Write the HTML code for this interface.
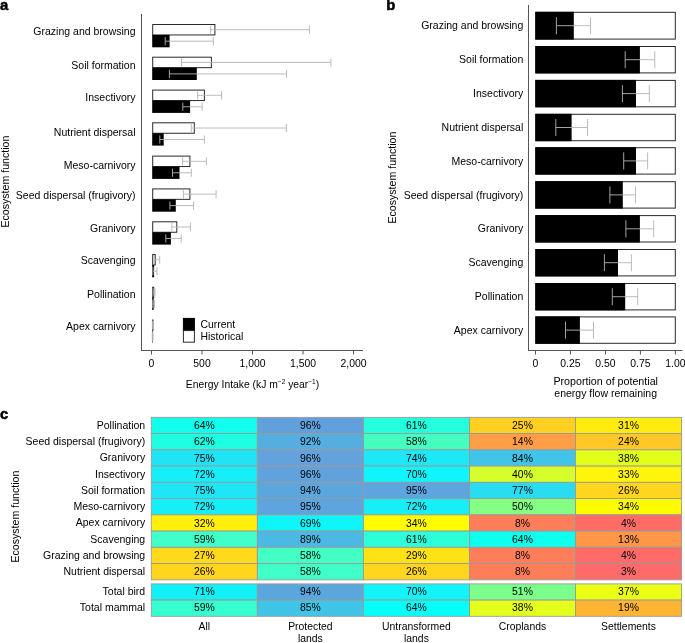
<!DOCTYPE html>
<html><head><meta charset="utf-8"><style>
html,body{margin:0;padding:0;background:#fff;width:685px;height:643px;overflow:hidden}
svg{display:block;will-change:transform}
text{font-family:"Liberation Sans", sans-serif;fill:#000}
</style></head><body>
<svg width="685" height="643" viewBox="0 0 685 643">
<text x="-0.1" y="9.9" text-anchor="start" font-size="14.8" font-weight="bold" stroke="#000" stroke-width="0.5">a</text>
<line x1="141.5" y1="14" x2="141.5" y2="350.5" stroke="#555" stroke-width="1"/>
<line x1="141" y1="350.5" x2="363" y2="350.5" stroke="#555" stroke-width="1"/>
<line x1="151.5" y1="350.5" x2="151.5" y2="354.5" stroke="#555" stroke-width="1"/>
<text x="151.5" y="367.4" text-anchor="middle" font-size="10.4" >0</text>
<line x1="202.0" y1="350.5" x2="202.0" y2="354.5" stroke="#555" stroke-width="1"/>
<text x="202.0" y="367.4" text-anchor="middle" font-size="10.4" >500</text>
<line x1="252.5" y1="350.5" x2="252.5" y2="354.5" stroke="#555" stroke-width="1"/>
<text x="252.5" y="367.4" text-anchor="middle" font-size="10.4" >1,000</text>
<line x1="303.0" y1="350.5" x2="303.0" y2="354.5" stroke="#555" stroke-width="1"/>
<text x="303.0" y="367.4" text-anchor="middle" font-size="10.4" >1,500</text>
<line x1="353.5" y1="350.5" x2="353.5" y2="354.5" stroke="#555" stroke-width="1"/>
<text x="353.5" y="367.4" text-anchor="middle" font-size="10.4" >2,000</text>
<text x="252.5" y="387.5" text-anchor="middle" font-size="10.35" >Energy Intake (kJ m<tspan dy="-4" font-size="6.5">−2</tspan><tspan dy="4"> year</tspan><tspan dy="-4" font-size="6.5">−1</tspan><tspan dy="4">)</tspan></text>
<text x="135.5" y="34.7" text-anchor="end" font-size="10.5" >Grazing and browsing</text>
<text x="135.5" y="68.5" text-anchor="end" font-size="10.5" >Soil formation</text>
<text x="135.5" y="100.9" text-anchor="end" font-size="10.5" >Insectivory</text>
<text x="135.5" y="136.3" text-anchor="end" font-size="10.5" >Nutrient dispersal</text>
<text x="135.5" y="169.1" text-anchor="end" font-size="10.5" >Meso-carnivory</text>
<text x="135.5" y="198.5" text-anchor="end" font-size="10.5" >Seed dispersal (frugivory)</text>
<text x="135.5" y="231.8" text-anchor="end" font-size="10.5" >Granivory</text>
<text x="135.5" y="264.4" text-anchor="end" font-size="10.5" >Scavenging</text>
<text x="135.5" y="298.0" text-anchor="end" font-size="10.5" >Pollination</text>
<text x="135.5" y="330.1" text-anchor="end" font-size="10.5" >Apex carnivory</text>
<text transform="translate(8.8,181.6) rotate(-90)" text-anchor="middle" font-size="10.6">Ecosystem function</text>
<rect x="152.70" y="24.50" width="62.20" height="10.45" fill="#fff" stroke="#2a2a2a" stroke-width="1"/>
<rect x="152.2" y="34.95" width="17.40" height="12.35" fill="#000"/>
<path d="M210.60 29.73H309.40M210.60 25.62V33.83M309.40 25.62V33.83" stroke="#b4b4b4" stroke-width="0.9" fill="none"/>
<path d="M165.20 41.17H213.40M165.20 37.07V45.27M213.40 37.07V45.27" stroke="#b4b4b4" stroke-width="0.9" fill="none"/>
<rect x="152.70" y="57.20" width="58.70" height="10.45" fill="#fff" stroke="#2a2a2a" stroke-width="1"/>
<rect x="152.2" y="67.65" width="44.60" height="12.35" fill="#000"/>
<path d="M181.50 62.43H330.90M181.50 58.33V66.53M330.90 58.33V66.53" stroke="#b4b4b4" stroke-width="0.9" fill="none"/>
<path d="M169.40 73.88H286.60M169.40 69.78V77.97M286.60 69.78V77.97" stroke="#b4b4b4" stroke-width="0.9" fill="none"/>
<rect x="152.70" y="90.10" width="51.70" height="10.45" fill="#fff" stroke="#2a2a2a" stroke-width="1"/>
<rect x="152.2" y="100.55" width="37.90" height="12.35" fill="#000"/>
<path d="M197.60 95.32H221.50M197.60 91.22V99.42M221.50 91.22V99.42" stroke="#b4b4b4" stroke-width="0.9" fill="none"/>
<path d="M182.80 106.77H202.20M182.80 102.67V110.87M202.20 102.67V110.87" stroke="#b4b4b4" stroke-width="0.9" fill="none"/>
<rect x="152.70" y="122.80" width="41.60" height="10.45" fill="#fff" stroke="#2a2a2a" stroke-width="1"/>
<rect x="152.2" y="133.25" width="11.50" height="12.35" fill="#000"/>
<path d="M191.30 128.03H286.40M191.30 123.93V132.12M286.40 123.93V132.12" stroke="#b4b4b4" stroke-width="0.9" fill="none"/>
<path d="M159.80 139.47H204.40M159.80 135.38V143.57M204.40 135.38V143.57" stroke="#b4b4b4" stroke-width="0.9" fill="none"/>
<rect x="152.70" y="156.10" width="37.20" height="10.45" fill="#fff" stroke="#2a2a2a" stroke-width="1"/>
<rect x="152.2" y="166.55" width="27.30" height="12.35" fill="#000"/>
<path d="M182.60 161.32H206.40M182.60 157.22V165.42M206.40 157.22V165.42" stroke="#b4b4b4" stroke-width="0.9" fill="none"/>
<path d="M172.50 172.77H191.30M172.50 168.67V176.87M191.30 168.67V176.87" stroke="#b4b4b4" stroke-width="0.9" fill="none"/>
<rect x="152.70" y="188.90" width="37.20" height="10.45" fill="#fff" stroke="#2a2a2a" stroke-width="1"/>
<rect x="152.2" y="199.35" width="23.60" height="12.35" fill="#000"/>
<path d="M183.40 194.12H216.10M183.40 190.03V198.22M216.10 190.03V198.22" stroke="#b4b4b4" stroke-width="0.9" fill="none"/>
<path d="M169.90 205.57H193.50M169.90 201.47V209.67M193.50 201.47V209.67" stroke="#b4b4b4" stroke-width="0.9" fill="none"/>
<rect x="152.70" y="221.80" width="24.10" height="10.45" fill="#fff" stroke="#2a2a2a" stroke-width="1"/>
<rect x="152.2" y="232.25" width="18.70" height="12.35" fill="#000"/>
<path d="M171.80 227.03H190.50M171.80 222.93V231.12M190.50 222.93V231.12" stroke="#b4b4b4" stroke-width="0.9" fill="none"/>
<path d="M165.80 238.48H181.20M165.80 234.38V242.58M181.20 234.38V242.58" stroke="#b4b4b4" stroke-width="0.9" fill="none"/>
<rect x="152.70" y="254.50" width="2.50" height="10.45" fill="#fff" stroke="#2a2a2a" stroke-width="1"/>
<rect x="152.2" y="264.95" width="1.90" height="12.35" fill="#000"/>
<path d="M154.20 259.73H159.70M154.20 255.63V263.83M159.70 255.63V263.83" stroke="#b4b4b4" stroke-width="0.9" fill="none"/>
<path d="M153.00 271.18H156.90M153.00 267.07V275.28M156.90 267.07V275.28" stroke="#b4b4b4" stroke-width="0.9" fill="none"/>
<rect x="152.70" y="287.20" width="1.00" height="10.45" fill="#fff" stroke="#2a2a2a" stroke-width="1"/>
<rect x="152.2" y="297.65" width="1.40" height="12.35" fill="#000"/>
<path d="M153.20 292.43H155.00M153.20 288.32V296.53M155.00 288.32V296.53" stroke="#b4b4b4" stroke-width="0.9" fill="none"/>
<path d="M152.80 303.88H154.50M152.80 299.77V307.98M154.50 299.77V307.98" stroke="#b4b4b4" stroke-width="0.9" fill="none"/>
<rect x="152.70" y="319.90" width="0.20" height="10.45" fill="#fff" stroke="#2a2a2a" stroke-width="1"/>
<rect x="152.2" y="330.35" width="0.50" height="12.35" fill="#000"/>
<path d="M152.40 325.12H153.20M152.40 321.02V329.23M153.20 321.02V329.23" stroke="#b4b4b4" stroke-width="0.9" fill="none"/>
<path d="M152.30 336.57H153.00M152.30 332.47V340.68M153.00 332.47V340.68" stroke="#b4b4b4" stroke-width="0.9" fill="none"/>
<rect x="183.4" y="318.4" width="11" height="12.2" fill="#000" stroke="#000" stroke-width="1"/>
<rect x="183.4" y="330.6" width="11" height="11.6" fill="#fff" stroke="#2a2a2a" stroke-width="1"/>
<text x="200.5" y="327.7" text-anchor="start" font-size="10.4" >Current</text>
<text x="200.5" y="340.0" text-anchor="start" font-size="10.4" >Historical</text>
<text x="386.3" y="10.2" text-anchor="start" font-size="14.8" font-weight="bold" stroke="#000" stroke-width="0.5">b</text>
<line x1="528.5" y1="5" x2="528.5" y2="350.5" stroke="#555" stroke-width="1"/>
<line x1="528" y1="350.5" x2="682.5" y2="350.5" stroke="#555" stroke-width="1"/>
<line x1="535.50" y1="350.5" x2="535.50" y2="354.5" stroke="#555" stroke-width="1"/>
<text x="535.5" y="367.2" text-anchor="middle" font-size="10.4" >0</text>
<line x1="570.47" y1="350.5" x2="570.47" y2="354.5" stroke="#555" stroke-width="1"/>
<text x="570.47" y="367.2" text-anchor="middle" font-size="10.4" >0.25</text>
<line x1="605.44" y1="350.5" x2="605.44" y2="354.5" stroke="#555" stroke-width="1"/>
<text x="605.44" y="367.2" text-anchor="middle" font-size="10.4" >0.50</text>
<line x1="640.41" y1="350.5" x2="640.41" y2="354.5" stroke="#555" stroke-width="1"/>
<text x="640.41" y="367.2" text-anchor="middle" font-size="10.4" >0.75</text>
<line x1="675.38" y1="350.5" x2="675.38" y2="354.5" stroke="#555" stroke-width="1"/>
<text x="675.38" y="367.2" text-anchor="middle" font-size="10.4" >1.00</text>
<text x="605.7" y="384.7" text-anchor="middle" font-size="10.7" >Proportion of potential</text>
<text x="605.7" y="397.0" text-anchor="middle" font-size="10.5" >energy flow remaining</text>
<text x="523.3" y="29.4" text-anchor="end" font-size="10.5" >Grazing and browsing</text>
<text x="523.3" y="63.22" text-anchor="end" font-size="10.5" >Soil formation</text>
<text x="523.3" y="97.04" text-anchor="end" font-size="10.5" >Insectivory</text>
<text x="523.3" y="130.86" text-anchor="end" font-size="10.5" >Nutrient dispersal</text>
<text x="523.3" y="164.68" text-anchor="end" font-size="10.5" >Meso-carnivory</text>
<text x="523.3" y="198.5" text-anchor="end" font-size="10.5" >Seed dispersal (frugivory)</text>
<text x="523.3" y="232.32" text-anchor="end" font-size="10.5" >Granivory</text>
<text x="523.3" y="266.14" text-anchor="end" font-size="10.5" >Scavenging</text>
<text x="523.3" y="299.96" text-anchor="end" font-size="10.5" >Pollination</text>
<text x="523.3" y="333.78" text-anchor="end" font-size="10.5" >Apex carnivory</text>
<text transform="translate(396.3,177.6) rotate(-90)" text-anchor="middle" font-size="10.6">Ecosystem function</text>
<rect x="535.80" y="12.30" width="139.50" height="26.80" fill="#fff" stroke="#2a2a2a" stroke-width="1"/>
<rect x="535.3" y="11.80" width="38.50" height="27.8" fill="#000"/>
<path d="M556.40 25.70H590.50M556.40 17.20V34.20M590.50 17.20V34.20" stroke="#b4b4b4" stroke-width="0.9" fill="none"/>
<rect x="535.80" y="46.50" width="139.50" height="26.40" fill="#fff" stroke="#2a2a2a" stroke-width="1"/>
<rect x="535.3" y="46.00" width="104.60" height="27.4" fill="#000"/>
<path d="M625.20 59.70H654.80M625.20 51.20V68.20M654.80 51.20V68.20" stroke="#b4b4b4" stroke-width="0.9" fill="none"/>
<rect x="535.80" y="80.40" width="139.50" height="26.40" fill="#fff" stroke="#2a2a2a" stroke-width="1"/>
<rect x="535.3" y="79.90" width="100.70" height="27.4" fill="#000"/>
<path d="M622.40 93.60H649.30M622.40 85.10V102.10M649.30 85.10V102.10" stroke="#b4b4b4" stroke-width="0.9" fill="none"/>
<rect x="535.80" y="114.30" width="139.50" height="26.40" fill="#fff" stroke="#2a2a2a" stroke-width="1"/>
<rect x="535.3" y="113.80" width="36.30" height="27.4" fill="#000"/>
<path d="M555.80 127.50H587.60M555.80 119.00V136.00M587.60 119.00V136.00" stroke="#b4b4b4" stroke-width="0.9" fill="none"/>
<rect x="535.80" y="147.70" width="139.50" height="26.40" fill="#fff" stroke="#2a2a2a" stroke-width="1"/>
<rect x="535.3" y="147.20" width="100.70" height="27.4" fill="#000"/>
<path d="M623.70 160.90H647.60M623.70 152.40V169.40M647.60 152.40V169.40" stroke="#b4b4b4" stroke-width="0.9" fill="none"/>
<rect x="535.80" y="181.70" width="139.50" height="26.40" fill="#fff" stroke="#2a2a2a" stroke-width="1"/>
<rect x="535.3" y="181.20" width="87.50" height="27.4" fill="#000"/>
<path d="M609.90 194.90H635.50M609.90 186.40V203.40M635.50 186.40V203.40" stroke="#b4b4b4" stroke-width="0.9" fill="none"/>
<rect x="535.80" y="215.60" width="139.50" height="26.40" fill="#fff" stroke="#2a2a2a" stroke-width="1"/>
<rect x="535.3" y="215.10" width="104.60" height="27.4" fill="#000"/>
<path d="M625.90 228.80H653.70M625.90 220.30V237.30M653.70 220.30V237.30" stroke="#b4b4b4" stroke-width="0.9" fill="none"/>
<rect x="535.80" y="249.50" width="139.50" height="26.40" fill="#fff" stroke="#2a2a2a" stroke-width="1"/>
<rect x="535.3" y="249.00" width="82.70" height="27.4" fill="#000"/>
<path d="M604.40 262.70H631.40M604.40 254.20V271.20M631.40 254.20V271.20" stroke="#b4b4b4" stroke-width="0.9" fill="none"/>
<rect x="535.80" y="283.50" width="139.50" height="26.40" fill="#fff" stroke="#2a2a2a" stroke-width="1"/>
<rect x="535.3" y="283.00" width="89.90" height="27.4" fill="#000"/>
<path d="M612.30 296.70H637.70M612.30 288.20V305.20M637.70 288.20V305.20" stroke="#b4b4b4" stroke-width="0.9" fill="none"/>
<rect x="535.80" y="316.90" width="139.50" height="26.40" fill="#fff" stroke="#2a2a2a" stroke-width="1"/>
<rect x="535.3" y="316.40" width="44.60" height="27.4" fill="#000"/>
<path d="M565.50 330.10H593.50M565.50 321.60V338.60M593.50 321.60V338.60" stroke="#b4b4b4" stroke-width="0.9" fill="none"/>
<text x="0.1" y="418.7" text-anchor="start" font-size="14.8" font-weight="bold" stroke="#000" stroke-width="0.5">c</text>
<rect x="151.30" y="417.35" width="106.05" height="16.25" fill="#12FFEE" stroke="#9a9a9a" stroke-width="0.9"/>
<text x="204.33" y="429.0" text-anchor="middle" font-size="10.4" >64%</text>
<rect x="257.35" y="417.35" width="106.05" height="16.25" fill="#62A0DC" stroke="#9a9a9a" stroke-width="0.9"/>
<text x="310.38" y="429.0" text-anchor="middle" font-size="10.4" >96%</text>
<rect x="363.40" y="417.35" width="106.05" height="16.25" fill="#26FFDE" stroke="#9a9a9a" stroke-width="0.9"/>
<text x="416.42" y="429.0" text-anchor="middle" font-size="10.4" >61%</text>
<rect x="469.45" y="417.35" width="106.05" height="16.25" fill="#FFD022" stroke="#9a9a9a" stroke-width="0.9"/>
<text x="522.48" y="429.0" text-anchor="middle" font-size="10.4" >25%</text>
<rect x="575.50" y="417.35" width="106.05" height="16.25" fill="#FFEB0E" stroke="#9a9a9a" stroke-width="0.9"/>
<text x="628.52" y="429.0" text-anchor="middle" font-size="10.4" >31%</text>
<text x="145.2" y="428.85" text-anchor="end" font-size="10.5" >Pollination</text>
<rect x="151.30" y="433.60" width="106.05" height="16.25" fill="#1EFFE2" stroke="#9a9a9a" stroke-width="0.9"/>
<text x="204.33" y="445.25" text-anchor="middle" font-size="10.4" >62%</text>
<rect x="257.35" y="433.60" width="106.05" height="16.25" fill="#56ADE0" stroke="#9a9a9a" stroke-width="0.9"/>
<text x="310.38" y="445.25" text-anchor="middle" font-size="10.4" >92%</text>
<rect x="363.40" y="433.60" width="106.05" height="16.25" fill="#44FFC0" stroke="#9a9a9a" stroke-width="0.9"/>
<text x="416.42" y="445.25" text-anchor="middle" font-size="10.4" >58%</text>
<rect x="469.45" y="433.60" width="106.05" height="16.25" fill="#FF9E46" stroke="#9a9a9a" stroke-width="0.9"/>
<text x="522.48" y="445.25" text-anchor="middle" font-size="10.4" >14%</text>
<rect x="575.50" y="433.60" width="106.05" height="16.25" fill="#FFC826" stroke="#9a9a9a" stroke-width="0.9"/>
<text x="628.52" y="445.25" text-anchor="middle" font-size="10.4" >24%</text>
<text x="145.2" y="445.1" text-anchor="end" font-size="10.5" >Seed dispersal (frugivory)</text>
<rect x="151.30" y="449.85" width="106.05" height="16.25" fill="#20E4F5" stroke="#9a9a9a" stroke-width="0.9"/>
<text x="204.33" y="461.5" text-anchor="middle" font-size="10.4" >75%</text>
<rect x="257.35" y="449.85" width="106.05" height="16.25" fill="#64A2DE" stroke="#9a9a9a" stroke-width="0.9"/>
<text x="310.38" y="461.5" text-anchor="middle" font-size="10.4" >96%</text>
<rect x="363.40" y="449.85" width="106.05" height="16.25" fill="#1EE8F6" stroke="#9a9a9a" stroke-width="0.9"/>
<text x="416.42" y="461.5" text-anchor="middle" font-size="10.4" >74%</text>
<rect x="469.45" y="449.85" width="106.05" height="16.25" fill="#40C4E8" stroke="#9a9a9a" stroke-width="0.9"/>
<text x="522.48" y="461.5" text-anchor="middle" font-size="10.4" >84%</text>
<rect x="575.50" y="449.85" width="106.05" height="16.25" fill="#E2FF1C" stroke="#9a9a9a" stroke-width="0.9"/>
<text x="628.52" y="461.5" text-anchor="middle" font-size="10.4" >38%</text>
<text x="145.2" y="461.35" text-anchor="end" font-size="10.5" >Granivory</text>
<rect x="151.30" y="466.10" width="106.05" height="16.25" fill="#16EEF8" stroke="#9a9a9a" stroke-width="0.9"/>
<text x="204.33" y="477.75" text-anchor="middle" font-size="10.4" >72%</text>
<rect x="257.35" y="466.10" width="106.05" height="16.25" fill="#62A2DC" stroke="#9a9a9a" stroke-width="0.9"/>
<text x="310.38" y="477.75" text-anchor="middle" font-size="10.4" >96%</text>
<rect x="363.40" y="466.10" width="106.05" height="16.25" fill="#10F4FC" stroke="#9a9a9a" stroke-width="0.9"/>
<text x="416.42" y="477.75" text-anchor="middle" font-size="10.4" >70%</text>
<rect x="469.45" y="466.10" width="106.05" height="16.25" fill="#D4FF2C" stroke="#9a9a9a" stroke-width="0.9"/>
<text x="522.48" y="477.75" text-anchor="middle" font-size="10.4" >40%</text>
<rect x="575.50" y="466.10" width="106.05" height="16.25" fill="#FFF50A" stroke="#9a9a9a" stroke-width="0.9"/>
<text x="628.52" y="477.75" text-anchor="middle" font-size="10.4" >33%</text>
<text x="145.2" y="477.6" text-anchor="end" font-size="10.5" >Insectivory</text>
<rect x="151.30" y="482.35" width="106.05" height="16.25" fill="#1EE6F6" stroke="#9a9a9a" stroke-width="0.9"/>
<text x="204.33" y="494.0" text-anchor="middle" font-size="10.4" >75%</text>
<rect x="257.35" y="482.35" width="106.05" height="16.25" fill="#5CA6DE" stroke="#9a9a9a" stroke-width="0.9"/>
<text x="310.38" y="494.0" text-anchor="middle" font-size="10.4" >94%</text>
<rect x="363.40" y="482.35" width="106.05" height="16.25" fill="#5EA4DE" stroke="#9a9a9a" stroke-width="0.9"/>
<text x="416.42" y="494.0" text-anchor="middle" font-size="10.4" >95%</text>
<rect x="469.45" y="482.35" width="106.05" height="16.25" fill="#2ADCF2" stroke="#9a9a9a" stroke-width="0.9"/>
<text x="522.48" y="494.0" text-anchor="middle" font-size="10.4" >77%</text>
<rect x="575.50" y="482.35" width="106.05" height="16.25" fill="#FFD51E" stroke="#9a9a9a" stroke-width="0.9"/>
<text x="628.52" y="494.0" text-anchor="middle" font-size="10.4" >26%</text>
<text x="145.2" y="493.85" text-anchor="end" font-size="10.5" >Soil formation</text>
<rect x="151.30" y="498.60" width="106.05" height="16.25" fill="#16EEF8" stroke="#9a9a9a" stroke-width="0.9"/>
<text x="204.33" y="510.25" text-anchor="middle" font-size="10.4" >72%</text>
<rect x="257.35" y="498.60" width="106.05" height="16.25" fill="#5EA4DE" stroke="#9a9a9a" stroke-width="0.9"/>
<text x="310.38" y="510.25" text-anchor="middle" font-size="10.4" >95%</text>
<rect x="363.40" y="498.60" width="106.05" height="16.25" fill="#16EEF8" stroke="#9a9a9a" stroke-width="0.9"/>
<text x="416.42" y="510.25" text-anchor="middle" font-size="10.4" >72%</text>
<rect x="469.45" y="498.60" width="106.05" height="16.25" fill="#84FF84" stroke="#9a9a9a" stroke-width="0.9"/>
<text x="522.48" y="510.25" text-anchor="middle" font-size="10.4" >50%</text>
<rect x="575.50" y="498.60" width="106.05" height="16.25" fill="#FFFC00" stroke="#9a9a9a" stroke-width="0.9"/>
<text x="628.52" y="510.25" text-anchor="middle" font-size="10.4" >34%</text>
<text x="145.2" y="510.1" text-anchor="end" font-size="10.5" >Meso-carnivory</text>
<rect x="151.30" y="514.85" width="106.05" height="16.25" fill="#FFF00C" stroke="#9a9a9a" stroke-width="0.9"/>
<text x="204.33" y="526.5" text-anchor="middle" font-size="10.4" >32%</text>
<rect x="257.35" y="514.85" width="106.05" height="16.25" fill="#0EF6FC" stroke="#9a9a9a" stroke-width="0.9"/>
<text x="310.38" y="526.5" text-anchor="middle" font-size="10.4" >69%</text>
<rect x="363.40" y="514.85" width="106.05" height="16.25" fill="#FFFC00" stroke="#9a9a9a" stroke-width="0.9"/>
<text x="416.42" y="526.5" text-anchor="middle" font-size="10.4" >34%</text>
<rect x="469.45" y="514.85" width="106.05" height="16.25" fill="#FF7E5A" stroke="#9a9a9a" stroke-width="0.9"/>
<text x="522.48" y="526.5" text-anchor="middle" font-size="10.4" >8%</text>
<rect x="575.50" y="514.85" width="106.05" height="16.25" fill="#FF6C66" stroke="#9a9a9a" stroke-width="0.9"/>
<text x="628.52" y="526.5" text-anchor="middle" font-size="10.4" >4%</text>
<text x="145.2" y="526.35" text-anchor="end" font-size="10.5" >Apex carnivory</text>
<rect x="151.30" y="531.10" width="106.05" height="16.25" fill="#40FFC8" stroke="#9a9a9a" stroke-width="0.9"/>
<text x="204.33" y="542.75" text-anchor="middle" font-size="10.4" >59%</text>
<rect x="257.35" y="531.10" width="106.05" height="16.25" fill="#4CB8E4" stroke="#9a9a9a" stroke-width="0.9"/>
<text x="310.38" y="542.75" text-anchor="middle" font-size="10.4" >89%</text>
<rect x="363.40" y="531.10" width="106.05" height="16.25" fill="#2CFFDA" stroke="#9a9a9a" stroke-width="0.9"/>
<text x="416.42" y="542.75" text-anchor="middle" font-size="10.4" >61%</text>
<rect x="469.45" y="531.10" width="106.05" height="16.25" fill="#0EFFEE" stroke="#9a9a9a" stroke-width="0.9"/>
<text x="522.48" y="542.75" text-anchor="middle" font-size="10.4" >64%</text>
<rect x="575.50" y="531.10" width="106.05" height="16.25" fill="#FF9648" stroke="#9a9a9a" stroke-width="0.9"/>
<text x="628.52" y="542.75" text-anchor="middle" font-size="10.4" >13%</text>
<text x="145.2" y="542.6" text-anchor="end" font-size="10.5" >Scavenging</text>
<rect x="151.30" y="547.35" width="106.05" height="16.25" fill="#FFD91A" stroke="#9a9a9a" stroke-width="0.9"/>
<text x="204.33" y="559.0" text-anchor="middle" font-size="10.4" >27%</text>
<rect x="257.35" y="547.35" width="106.05" height="16.25" fill="#44FFC4" stroke="#9a9a9a" stroke-width="0.9"/>
<text x="310.38" y="559.0" text-anchor="middle" font-size="10.4" >58%</text>
<rect x="363.40" y="547.35" width="106.05" height="16.25" fill="#FFE214" stroke="#9a9a9a" stroke-width="0.9"/>
<text x="416.42" y="559.0" text-anchor="middle" font-size="10.4" >29%</text>
<rect x="469.45" y="547.35" width="106.05" height="16.25" fill="#FF7E5A" stroke="#9a9a9a" stroke-width="0.9"/>
<text x="522.48" y="559.0" text-anchor="middle" font-size="10.4" >8%</text>
<rect x="575.50" y="547.35" width="106.05" height="16.25" fill="#FF6B68" stroke="#9a9a9a" stroke-width="0.9"/>
<text x="628.52" y="559.0" text-anchor="middle" font-size="10.4" >4%</text>
<text x="145.2" y="558.85" text-anchor="end" font-size="10.5" >Grazing and browsing</text>
<rect x="151.30" y="563.60" width="106.05" height="16.25" fill="#FFD51E" stroke="#9a9a9a" stroke-width="0.9"/>
<text x="204.33" y="575.25" text-anchor="middle" font-size="10.4" >26%</text>
<rect x="257.35" y="563.60" width="106.05" height="16.25" fill="#40FFC8" stroke="#9a9a9a" stroke-width="0.9"/>
<text x="310.38" y="575.25" text-anchor="middle" font-size="10.4" >58%</text>
<rect x="363.40" y="563.60" width="106.05" height="16.25" fill="#FFD51E" stroke="#9a9a9a" stroke-width="0.9"/>
<text x="416.42" y="575.25" text-anchor="middle" font-size="10.4" >26%</text>
<rect x="469.45" y="563.60" width="106.05" height="16.25" fill="#FF7E5A" stroke="#9a9a9a" stroke-width="0.9"/>
<text x="522.48" y="575.25" text-anchor="middle" font-size="10.4" >8%</text>
<rect x="575.50" y="563.60" width="106.05" height="16.25" fill="#FF6B6B" stroke="#9a9a9a" stroke-width="0.9"/>
<text x="628.52" y="575.25" text-anchor="middle" font-size="10.4" >3%</text>
<text x="145.2" y="575.1" text-anchor="end" font-size="10.5" >Nutrient dispersal</text>
<rect x="151.30" y="583.90" width="106.05" height="16.2" fill="#12F0F8" stroke="#9a9a9a" stroke-width="0.9"/>
<text x="204.33" y="594.9" text-anchor="middle" font-size="10.4" >71%</text>
<rect x="257.35" y="583.90" width="106.05" height="16.2" fill="#5CA6DE" stroke="#9a9a9a" stroke-width="0.9"/>
<text x="310.38" y="594.9" text-anchor="middle" font-size="10.4" >94%</text>
<rect x="363.40" y="583.90" width="106.05" height="16.2" fill="#12F4FA" stroke="#9a9a9a" stroke-width="0.9"/>
<text x="416.42" y="594.9" text-anchor="middle" font-size="10.4" >70%</text>
<rect x="469.45" y="583.90" width="106.05" height="16.2" fill="#7CFF8A" stroke="#9a9a9a" stroke-width="0.9"/>
<text x="522.48" y="594.9" text-anchor="middle" font-size="10.4" >51%</text>
<rect x="575.50" y="583.90" width="106.05" height="16.2" fill="#EAFF14" stroke="#9a9a9a" stroke-width="0.9"/>
<text x="628.52" y="594.9" text-anchor="middle" font-size="10.4" >37%</text>
<text x="145.2" y="594.9" text-anchor="end" font-size="10.5" >Total bird</text>
<rect x="151.30" y="600.10" width="106.05" height="16.2" fill="#36FFD0" stroke="#9a9a9a" stroke-width="0.9"/>
<text x="204.33" y="611.1" text-anchor="middle" font-size="10.4" >59%</text>
<rect x="257.35" y="600.10" width="106.05" height="16.2" fill="#40C4E8" stroke="#9a9a9a" stroke-width="0.9"/>
<text x="310.38" y="611.1" text-anchor="middle" font-size="10.4" >85%</text>
<rect x="363.40" y="600.10" width="106.05" height="16.2" fill="#06FFF8" stroke="#9a9a9a" stroke-width="0.9"/>
<text x="416.42" y="611.1" text-anchor="middle" font-size="10.4" >64%</text>
<rect x="469.45" y="600.10" width="106.05" height="16.2" fill="#E4FF1C" stroke="#9a9a9a" stroke-width="0.9"/>
<text x="522.48" y="611.1" text-anchor="middle" font-size="10.4" >38%</text>
<rect x="575.50" y="600.10" width="106.05" height="16.2" fill="#FFB432" stroke="#9a9a9a" stroke-width="0.9"/>
<text x="628.52" y="611.1" text-anchor="middle" font-size="10.4" >19%</text>
<text x="145.2" y="611.1" text-anchor="end" font-size="10.5" >Total mammal</text>
<text transform="translate(18.6,516.6) rotate(-90)" text-anchor="middle" font-size="10.6">Ecosystem function</text>
<text x="204.33" y="630.1" text-anchor="middle" font-size="10.4" >All</text>
<text x="310.38" y="630.1" text-anchor="middle" font-size="10.4" >Protected</text>
<text x="416.42" y="630.1" text-anchor="middle" font-size="10.4" >Untransformed</text>
<text x="522.48" y="630.1" text-anchor="middle" font-size="10.4" >Croplands</text>
<text x="628.52" y="630.1" text-anchor="middle" font-size="10.4" >Settlements</text>
<text x="310.38" y="642.1" text-anchor="middle" font-size="10.4" >lands</text>
<text x="416.42" y="642.1" text-anchor="middle" font-size="10.4" >lands</text>
</svg>
</body></html>
